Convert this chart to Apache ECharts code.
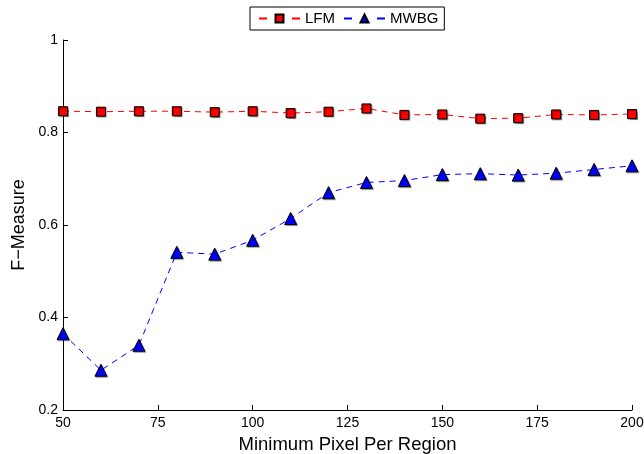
<!DOCTYPE html>
<html>
<head>
<meta charset="utf-8">
<script src="https://cdn.jsdelivr.net/npm/echarts@6/dist/echarts.min.js"></script>
<style>
  html, body { margin: 0; padding: 0; background: #fff; }
  #chart { width: 644px; height: 454px; }
</style>
</head>
<body>
<div id="chart"></div>
<script>
const pixels = [50, 60, 70, 80, 90, 100, 110, 120, 130, 140, 150, 160, 170, 180, 190, 200];
const lfm = [0.846, 0.845, 0.846, 0.846, 0.844, 0.846, 0.842, 0.845, 0.852, 0.838, 0.839, 0.830, 0.831, 0.839, 0.838, 0.840];
const mwbg = [0.365, 0.286, 0.340, 0.541, 0.537, 0.567, 0.614, 0.670, 0.692, 0.696, 0.709, 0.711, 0.708, 0.712, 0.720, 0.728];

const font = 'Liberation Sans, Arial, sans-serif';

function pairs(ys) {
  return pixels.map((x, i) => [x, ys[i]]);
}

const chart = echarts.init(document.getElementById('chart'), null, { renderer: 'canvas' });

const markerShadow = {
  shadowColor: 'rgba(0,0,0,0.35)',
  shadowBlur: 1,
  shadowOffsetX: 1,
  shadowOffsetY: 1
};

chart.setOption({
  animation: false,
  backgroundColor: '#fff',
  grid: { left: 63, right: 12, top: 40, bottom: 44, containLabel: false, outerBoundsMode: 'none' },
  legend: {
    top: 7,
    left: 250,
    padding: [4, 6, 4, 8],
    borderColor: '#000',
    borderWidth: 1,
    itemWidth: 41,
    itemHeight: 10,
    itemGap: 8,
    lineStyle: { type: [8, 25] },
    textStyle: { fontFamily: font, fontSize: 15, color: '#000' },
    data: ['LFM', 'MWBG']
  },
  xAxis: {
    type: 'value',
    min: 50,
    max: 200,
    interval: 25,
    name: 'Minimum Pixel Per Region',
    nameLocation: 'center',
    nameGap: 25,
    nameTextStyle: { fontFamily: font, fontSize: 18.5, color: '#000' },
    axisLine: { onZero: false, lineStyle: { color: '#000', width: 1 } },
    axisTick: { inside: true, length: 5, lineStyle: { color: '#000' } },
    axisLabel: { fontFamily: font, fontSize: 14, color: '#000', margin: 6 },
    splitLine: { show: false }
  },
  yAxis: {
    type: 'value',
    min: 0.2,
    max: 1,
    interval: 0.2,
    name: 'F\u2212Measure',
    nameLocation: 'center',
    nameGap: 34,
    nameRotate: 90,
    nameTextStyle: { fontFamily: font, fontSize: 18, color: '#000' },
    axisLine: { show: true, lineStyle: { color: '#000', width: 1 } },
    axisTick: { show: true, inside: true, length: 5, lineStyle: { color: '#000' } },
    axisLabel: {
      fontFamily: font, fontSize: 14, color: '#000', margin: 5,
      formatter: v => String(Math.round(v * 10) / 10)
    },
    splitLine: { show: false }
  },
  series: [
    {
      name: 'LFM',
      type: 'line',
      data: pairs(lfm),
      symbol: 'rect',
      symbolSize: 9,
      lineStyle: { color: '#ff0000', width: 1, type: [6, 5] },
      itemStyle: Object.assign({ color: '#ff0000', borderColor: '#000', borderWidth: 1 }, markerShadow)
    },
    {
      name: 'MWBG',
      type: 'line',
      data: pairs(mwbg),
      symbol: 'triangle',
      symbolSize: 12,
      lineStyle: { color: '#0000ff', width: 1, type: [6, 5] },
      itemStyle: Object.assign({ color: '#0000ff', borderColor: '#000', borderWidth: 1 }, markerShadow)
    }
  ]
});
</script>
</body>
</html>
